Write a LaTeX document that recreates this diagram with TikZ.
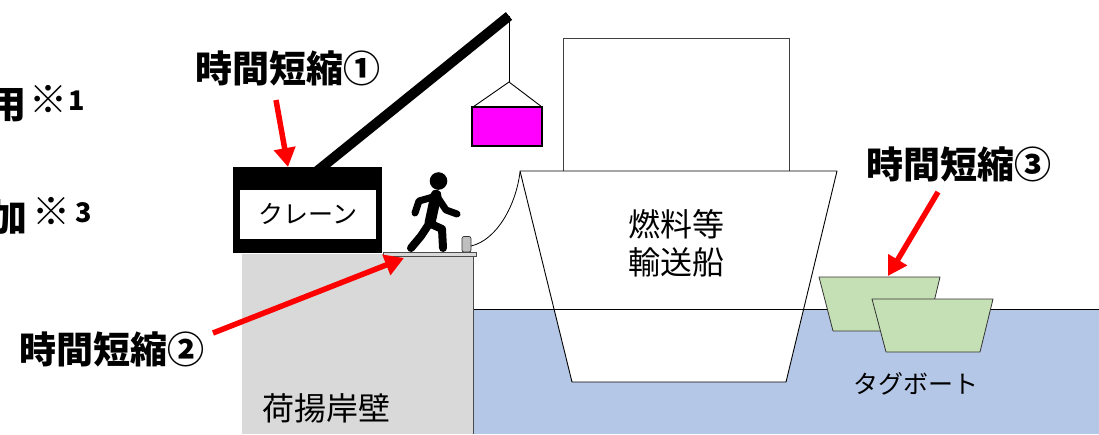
\documentclass[tikz,border=0pt]{standalone}
\usepackage{fontspec}
\newfontfamily\jp{Noto Sans CJK JP}
\usetikzlibrary{arrows.meta}
\definecolor{quay}{HTML}{D9D9D9}
\definecolor{water}{HTML}{B4C7E7}
\definecolor{tugfill}{HTML}{C5E0B4}
\definecolor{cargo}{HTML}{FF00FF}
\newcommand\kome{{\fontsize{38}{38}\selectfont\raisebox{-3pt}{※}}}
\begin{document}
\begin{tikzpicture}[x=1pt,y=-1pt,
  lbl/.style={font=\jp\bfseries\fontsize{37}{40}\selectfont, inner sep=0pt},
  note/.style={font=\jp\bfseries\fontsize{27}{28}\selectfont, inner sep=0pt},
  txt/.style={font=\jp\fontsize{#1}{#1}\selectfont, inner sep=0pt},
  redarrow/.style={draw=red, line width=5.5pt, -{Triangle[length=19pt,width=21pt]}},
  tugboat/.style={draw=black!80, fill=tugfill, line width=0.8pt, line join=round},
  limb/.style={line width=#1, line cap=round, line join=round}]
\useasboundingbox (0,0) rectangle (1099,434);

% quay wall
\fill[quay] (242,254) rectangle (473,434);
\draw[gray!60!black, line width=0.8pt] (473,254) -- (473,434);
\draw[fill=quay, draw=gray!60!black, line width=0.8pt] (383,252.5) rectangle (476,256);

% sea
\fill[water] (473.5,309) rectangle (1099,434);

% fuel transport ship
\draw[fill=white, draw=black!75, line width=1pt] (563,38) rectangle (789,171);
\draw[fill=white, line width=0.9pt, line join=round] (520,171) -- (837,171) -- (786,382) -- (572,382) -- cycle;
\node[txt=31, align=center, font=\jp\fontsize{32}{38}\selectfont] (ship) at (676,243) {燃料等\\輸送船};

% water line
\draw[line width=0.9pt] (473.5,309) -- (1099,309);

% tugboats
\draw[tugboat] (819,277) -- (940,277) -- (927,331) -- (833,331) -- cycle;
\draw[tugboat] (872,299) -- (993,299) -- (980,352) -- (886,352) -- cycle;
\node[txt=25] (tug) at (916,384) {タグボート};
\node[txt=32] (wall) at (326,408) {荷揚岸壁};

% bollard and mooring rope
\draw[fill=gray!50, draw=gray!40!black, rounded corners=2pt, line width=0.7pt] (462,236.5) rectangle (471,252) coordinate (bollard);
\coordinate (ropeA) at (471,246);
\coordinate (ropeB) at (520,172);
\draw[line width=0.8pt] (ropeA) .. controls (497,240) and (516,205) .. (ropeB);

% crane boom, hook and cargo
\draw[line width=10pt] (316,172) -- (509,16) coordinate (tip);
\coordinate (hook) at (509,82);
\draw[line width=1pt] (tip) -- (hook);
\draw[line width=0.9pt] (473,107) -- (hook) -- (542,107);
\draw[fill=cargo, line width=1.5pt] (472,107) rectangle (542,146);

% crane house
\fill (233,167) rectangle (382,253);
\fill[white] (240,190) rectangle (376,239);
\node[txt=25] (crane) at (308,214) {クレーン};

% walking worker
\fill (438.5,181) circle (8.8);
\draw[limb=11pt] (436,195) -- (430,223);
\draw[limb=7pt] (433,197) -- (419,201) -- (415,213);
\draw[limb=7pt] (438,198) -- (446,210) -- (457,214);
\draw[limb=8pt] (429,224) -- (421,236) -- (411,248);
\draw[limb=8pt] (431,224) -- (442,229) -- (443,248);

% notes running in from the left edge
\node[lbl, anchor=east, font=\jp\bfseries\fontsize{38}{40}\selectfont] (n1) at (27,105) {用};
\node[note, anchor=base west] (n1s) at (29,110) {\kome\kern1pt 1};
\node[lbl, anchor=east, font=\jp\bfseries\fontsize{38}{40}\selectfont] (n3) at (28,217) {加};
\node[note, anchor=base west] (n3s) at (32,222) {\kome\kern5pt 3};

% time reduction labels and arrows
\node[lbl] (t1) at (288,68) {時間短縮①};
\node[lbl] (t2) at (112,349) {時間短縮②};
\node[lbl] (t3) at (959,164) {時間短縮③};
\coordinate (a1s) at (276,100);
\coordinate (a1e) at (288,167);
\coordinate (a2s) at (213,333);
\coordinate (a2e) at (404,258);
\coordinate (a3s) at (938,192);
\coordinate (a3e) at (888,276);
\draw[redarrow] (a1s) -- (a1e);
\draw[redarrow] (a2s) -- (a2e);
\draw[redarrow] (a3s) -- (a3e);
\end{tikzpicture}
\end{document}
